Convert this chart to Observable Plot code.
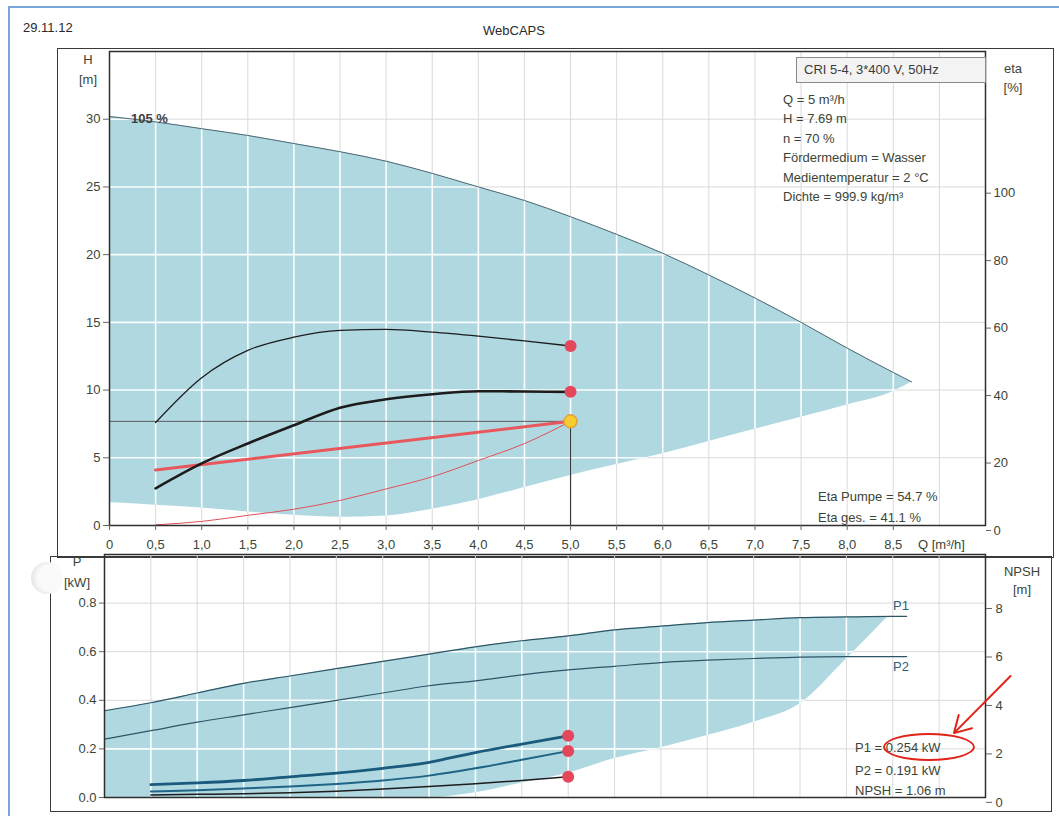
<!DOCTYPE html>
<html><head><meta charset="utf-8">
<script src="https://cdn.jsdelivr.net/npm/d3@7"></script>
<script src="https://cdn.jsdelivr.net/npm/@observablehq/plot@0.6"></script>
<style>
body{margin:0;background:#fff;font-family:"Liberation Sans",Arial,sans-serif}
#page{position:relative;width:1059px;height:816px;overflow:hidden;background:#fff}
.t{position:absolute;font-size:13px;line-height:16px;color:#3b4536;white-space:nowrap}
.c{transform:translateX(-50%)}
.box{position:absolute;border:1.5px solid #3a3a3a;box-sizing:border-box}
#chartTop,#chartBottom{position:absolute;left:0}
#chartTop{top:0}#chartBottom{top:540px}
svg{overflow:visible}
</style></head>
<body><div id="page">
<div style="position:absolute;left:8px;top:6px;width:1120px;height:900px;border:2px solid #79a5da"></div>
<div class="box" style="left:57px;top:48px;width:997px;height:510px"></div>
<div class="box" style="left:50px;top:556px;width:1002px;height:256px"></div>
<div id="chartTop"></div>
<div id="chartBottom"></div>
<div class="t" style="left:23px;top:20px;color:#2a2a2a">29.11.12</div>
<div class="t c" style="left:514px;top:23px;color:#2a2a2a">WebCAPS</div>
<div class="t c" style="left:88px;top:52px">H</div>
<div class="t c" style="left:88px;top:72px">[m]</div>
<div class="t" style="left:131px;top:111px;font-weight:bold;color:#404040">105 %</div>
<div class="t" style="left:796px;top:57px;width:190px;height:26px;background:#f3f3f3;border:1px solid #8a8a8a;box-sizing:border-box;padding:4px 0 0 7px;color:#3a3a3a">CRI 5-4, 3*400 V, 50Hz</div>
<div class="t" style="left:783px;top:92px">Q = 5 m³/h</div>
<div class="t" style="left:783px;top:111px">H = 7.69 m</div>
<div class="t" style="left:783px;top:131px">n = 70 %</div>
<div class="t" style="left:783px;top:150px">Fördermedium = Wasser</div>
<div class="t" style="left:783px;top:170px">Medientemperatur = 2 °C</div>
<div class="t" style="left:783px;top:189px">Dichte = 999.9 kg/m³</div>
<div class="t c" style="left:1013px;top:61px">eta</div>
<div class="t c" style="left:1013px;top:80px">[%]</div>
<div class="t" style="left:818px;top:489px">Eta Pumpe = 54.7 %</div>
<div class="t" style="left:818px;top:510px">Eta ges. = 41.1 %</div>
<div class="t" style="left:918px;top:537px">Q [m³/h]</div>
<div class="t c" style="left:77px;top:554px">P</div>
<div class="t c" style="left:77px;top:575px">[kW]</div>
<div class="t c" style="left:1022px;top:564px">NPSH</div>
<div class="t c" style="left:1022px;top:582px">[m]</div>
<div class="t" style="left:893px;top:598px;color:#2b5f80">P1</div>
<div class="t" style="left:893px;top:659px;color:#2b5f80">P2</div>
<div class="t" style="left:855px;top:740px">P1 = 0.254 kW</div>
<div class="t" style="left:855px;top:763px">P2 = 0.191 kW</div>
<div class="t" style="left:855px;top:783px">NPSH = 1.06 m</div>
<div style="position:absolute;left:883px;top:733px;width:92px;height:28px;border:2px solid #e2231a;border-radius:50%;box-sizing:border-box"></div>
<div style="position:absolute;left:31px;top:562px;width:32px;height:32px;border-radius:50%;background:radial-gradient(circle at 62% 50%,#fafafa 50%,#d4d4d4 100%)"></div>
</div>
<script>
// ---------- top panel: H(Q) ----------
const qEnvelope = [0,0.5,1,1.5,2,2.5,3,3.5,4,4.5,5,5.5,6,6.5,7,7.5,8,8.5,8.7];
const hMax105   = [30.2,29.8,29.3,28.8,28.2,27.6,26.9,26.0,25.0,24.0,22.8,21.5,20.1,18.5,16.8,15.0,13.1,11.3,10.6];
const hMin      = [1.7,1.5,1.3,1.0,0.75,0.6,0.7,1.2,1.9,2.8,3.7,4.5,5.3,6.2,7.1,8.0,8.9,9.9,10.6];
const qOp       = [0.5,1,1.5,2,2.5,3,3.5,4,4.5,5];
const etaPump   = [32.0,45.3,53.4,57.3,59.3,59.6,58.8,57.6,56.2,54.7];
const etaTotal  = [12.5,19.9,25.8,31.2,36.4,38.9,40.4,41.3,41.2,41.1];
const hSystem   = [0.05,0.3,0.75,1.2,1.85,2.7,3.6,4.8,6.05,7.69];
const qControl  = [0.5,5];
const hControl  = [4.1,7.69];
const duty      = {q:5, h:7.69, etaPump:54.7, etaTotal:41.1, p1:0.254, p2:0.191, npsh:1.06};
// ---------- bottom panel: P(Q), NPSH(Q) ----------
const qPower    = [0,0.5,1,1.5,2,2.5,3,3.5,4,4.5,5,5.5,6,6.5,7,7.5,8,8.5,8.65];
const p1Max     = [0.357,0.39,0.43,0.47,0.50,0.53,0.56,0.59,0.62,0.645,0.665,0.69,0.705,0.72,0.73,0.74,0.743,0.745,0.745];
const p2Max     = [0.24,0.275,0.31,0.34,0.37,0.40,0.43,0.46,0.48,0.505,0.525,0.54,0.555,0.565,0.572,0.578,0.58,0.58,0.58];
const qPArea    = [0,0.5,1,1.5,2,2.5,3,3.5,4,4.5,5,5.5,6,6.5,7,7.5,8,8.45];
const pAreaHigh = [0.357,0.39,0.43,0.47,0.50,0.53,0.56,0.59,0.62,0.645,0.665,0.69,0.705,0.72,0.73,0.74,0.743,0.745];
const pAreaLow  = [0,0,0,0,0,0,0,0,0.02,0.06,0.1,0.16,0.205,0.255,0.31,0.386,0.57,0.745];
const p1Op      = [0.053,0.06,0.07,0.085,0.10,0.12,0.145,0.185,0.22,0.254];
const p2Op      = [0.025,0.03,0.037,0.045,0.056,0.07,0.09,0.12,0.155,0.191];
const npshOp    = [0.3,0.33,0.36,0.4,0.46,0.55,0.65,0.77,0.9,1.06];
// ---------- ticks ----------
const qTicks    = [0,0.5,1,1.5,2,2.5,3,3.5,4,4.5,5,5.5,6,6.5,7,7.5,8,8.5];
const qGrid     = [0.5,1,1.5,2,2.5,3,3.5,4,4.5,5,5.5,6,6.5,7,7.5,8,8.5,9];
const hTicks    = [0,5,10,15,20,25,30];
const etaTicks  = [0,20,40,60,80,100];
const pTicks    = [0,0.2,0.4,0.6,0.8];
const npshTicks = [0,2,4,6,8];
const arrowNote = [{q1:9.77, p1:0.50, q2:9.16, p2:0.265}];

// secondary axes (linear maps onto the primary scale)
const etaToH = e => -0.37 + 0.2491*e;
const hToEta = h => (h + 0.37)/0.2491;
const npshToP = n => -0.02 + 0.0997*n;
const pToNpsh = p => (p + 0.02)/0.0997;

const envelope = qEnvelope.map((q,i)=>({q, hi:hMax105[i], lo:hMin[i]}));
const opRows = qOp.map((q,i)=>({q, etaP:etaToH(etaPump[i]), etaT:etaToH(etaTotal[i]), sys:hSystem[i], p1:p1Op[i], p2:p2Op[i], npsh:npshToP(npshOp[i])}));
const control = qControl.map((q,i)=>({q, h:hControl[i]}));
const powerRows = qPower.map((q,i)=>({q, p1:p1Max[i], p2:p2Max[i]}));
const pArea = qPArea.map((q,i)=>({q, hi:pAreaHigh[i], lo:pAreaLow[i]}));

const FILL = "#b0d8e1", GRAY = "#dadada", INK = "#3b4536";
const qFmt = d => d === 0 ? "0" : d.toFixed(1).replace(".", ",");
const baseStyle = {fontFamily:"Liberation Sans, Arial, sans-serif", fontSize:"13px", color:INK, background:"none", overflow:"visible"};

const topChart = Plot.plot({
  width:1059, height:560, marginLeft:109, marginRight:74, marginTop:51, marginBottom:35,
  style: baseStyle,
  x:{domain:[0,9.5], axis:null}, y:{domain:[0,35], axis:null},
  marks:[
    Plot.gridX(qGrid, {stroke:GRAY, strokeOpacity:1}),
    Plot.gridY(hTicks.slice(1), {stroke:GRAY, strokeOpacity:1}),
    Plot.areaY(envelope, {x:"q", y1:"lo", y2:"hi", fill:FILL, curve:"monotone-x"}),
    Plot.gridX(qGrid, {stroke:"#fff", strokeOpacity:0.95, strokeWidth:1.6}),
    Plot.gridY(hTicks.slice(1), {stroke:"#fff", strokeOpacity:0.95, strokeWidth:1.6}),
    Plot.lineY(envelope, {x:"q", y:"hi", stroke:"#4f6872", strokeWidth:1, curve:"monotone-x"}),
    Plot.ruleY([duty], {y:"h", x1:() => 0, x2:"q", stroke:"#5a5a5a", strokeWidth:1}),
    Plot.ruleX([duty], {x:"q", y1:() => 0, y2:"h", stroke:"#3a3a3a", strokeWidth:1.2}),
    Plot.lineY(opRows, {x:"q", y:"sys", stroke:"#e0505a", strokeWidth:1, curve:"monotone-x"}),
    Plot.lineY(control, {x:"q", y:"h", stroke:"#e8575c", strokeWidth:3}),
    Plot.lineY(opRows, {x:"q", y:"etaT", stroke:"#1c1c1c", strokeWidth:2.6, curve:"monotone-x"}),
    Plot.lineY(opRows, {x:"q", y:"etaP", stroke:"#1c1c1c", strokeWidth:1.3, curve:"monotone-x"}),
    Plot.dot([duty], {x:"q", y:d => etaToH(d.etaPump), r:6, fill:"#e4475b"}),
    Plot.dot([duty], {x:"q", y:d => etaToH(d.etaTotal), r:6, fill:"#e4475b"}),
    Plot.dot([duty], {x:"q", y:"h", r:6.5, fill:"#f6cd2f", stroke:"#e3a23a", strokeWidth:1.5}),
    Plot.frame({stroke:"#2e2e2e", strokeWidth:1.5}),
    Plot.axisY(hTicks, {anchor:"left", tickSize:6, tickPadding:3, label:null, stroke:"#666"}),
    Plot.axisY(etaTicks.map(etaToH), {anchor:"right", tickSize:5, tickPadding:3, label:null, stroke:"#666", tickFormat:h => Math.round(hToEta(h))}),
    Plot.axisX(qTicks, {anchor:"bottom", tickSize:5, tickPadding:9, label:null, stroke:"#666", tickFormat:qFmt})
  ]
});
document.getElementById("chartTop").appendChild(topChart);

const bottomChart = Plot.plot({
  width:1059, height:270, marginLeft:104, marginRight:74, marginTop:14, marginBottom:13,
  style: baseStyle,
  x:{domain:[0,9.5], axis:null}, y:{domain:[0,1], axis:null},
  marks:[
    Plot.gridX(qGrid, {stroke:GRAY, strokeOpacity:1}),
    Plot.gridY(pTicks.slice(1), {stroke:GRAY, strokeOpacity:1}),
    Plot.areaY(pArea, {x:"q", y1:"lo", y2:"hi", fill:FILL, curve:"monotone-x"}),
    Plot.gridX(qGrid, {stroke:"#fff", strokeOpacity:0.95, strokeWidth:1.6}),
    Plot.gridY(pTicks.slice(1), {stroke:"#fff", strokeOpacity:0.95, strokeWidth:1.6}),
    Plot.lineY(powerRows, {x:"q", y:"p1", stroke:"#2d5566", strokeWidth:1.2, curve:"monotone-x"}),
    Plot.lineY(powerRows, {x:"q", y:"p2", stroke:"#2d5566", strokeWidth:1.2, curve:"monotone-x"}),
    Plot.lineY(opRows, {x:"q", y:"npsh", stroke:"#1d1d1d", strokeWidth:1.5, curve:"monotone-x"}),
    Plot.lineY(opRows, {x:"q", y:"p2", stroke:"#1f6486", strokeWidth:2, curve:"monotone-x"}),
    Plot.lineY(opRows, {x:"q", y:"p1", stroke:"#1a5a7c", strokeWidth:2.8, curve:"monotone-x"}),
    Plot.dot([duty], {x:"q", y:"p1", r:6, fill:"#e4475b"}),
    Plot.dot([duty], {x:"q", y:"p2", r:6, fill:"#e4475b"}),
    Plot.dot([duty], {x:"q", y:d => npshToP(d.npsh), r:6, fill:"#e4475b"}),
    Plot.frame({stroke:"#2e2e2e", strokeWidth:1.5}),
    Plot.axisY(pTicks, {anchor:"left", tickSize:5, tickPadding:3, label:null, stroke:"#666", tickFormat:d3.format(".1f")}),
    Plot.axisY(npshTicks.map(npshToP), {anchor:"right", tickSize:6, tickPadding:4, label:null, stroke:"#666", tickFormat:p => Math.round(pToNpsh(p))}),
    Plot.arrow(arrowNote, {x1:"q1", y1:"p1", x2:"q2", y2:"p2", stroke:"#e2231a", strokeWidth:2, headLength:14})
  ]
});
document.getElementById("chartBottom").appendChild(bottomChart);

// clip the white grid lines to the blue envelope (white over blue, gray elsewhere)
function clipGrid(svg, id) {
  const area = svg.querySelector('g[aria-label="area"] path');
  if (!area) return;
  const ns = "http://www.w3.org/2000/svg";
  const defs = document.createElementNS(ns, "defs");
  const cp = document.createElementNS(ns, "clipPath");
  cp.setAttribute("id", id);
  const p = document.createElementNS(ns, "path");
  p.setAttribute("d", area.getAttribute("d"));
  cp.appendChild(p); defs.appendChild(cp);
  svg.insertBefore(defs, svg.firstChild);
  svg.querySelectorAll('g[stroke="#fff"]').forEach(g => g.setAttribute("clip-path", `url(#${id})`));
}
clipGrid(topChart, "clipTop");
clipGrid(bottomChart, "clipBottom");
</script>
</body></html>
